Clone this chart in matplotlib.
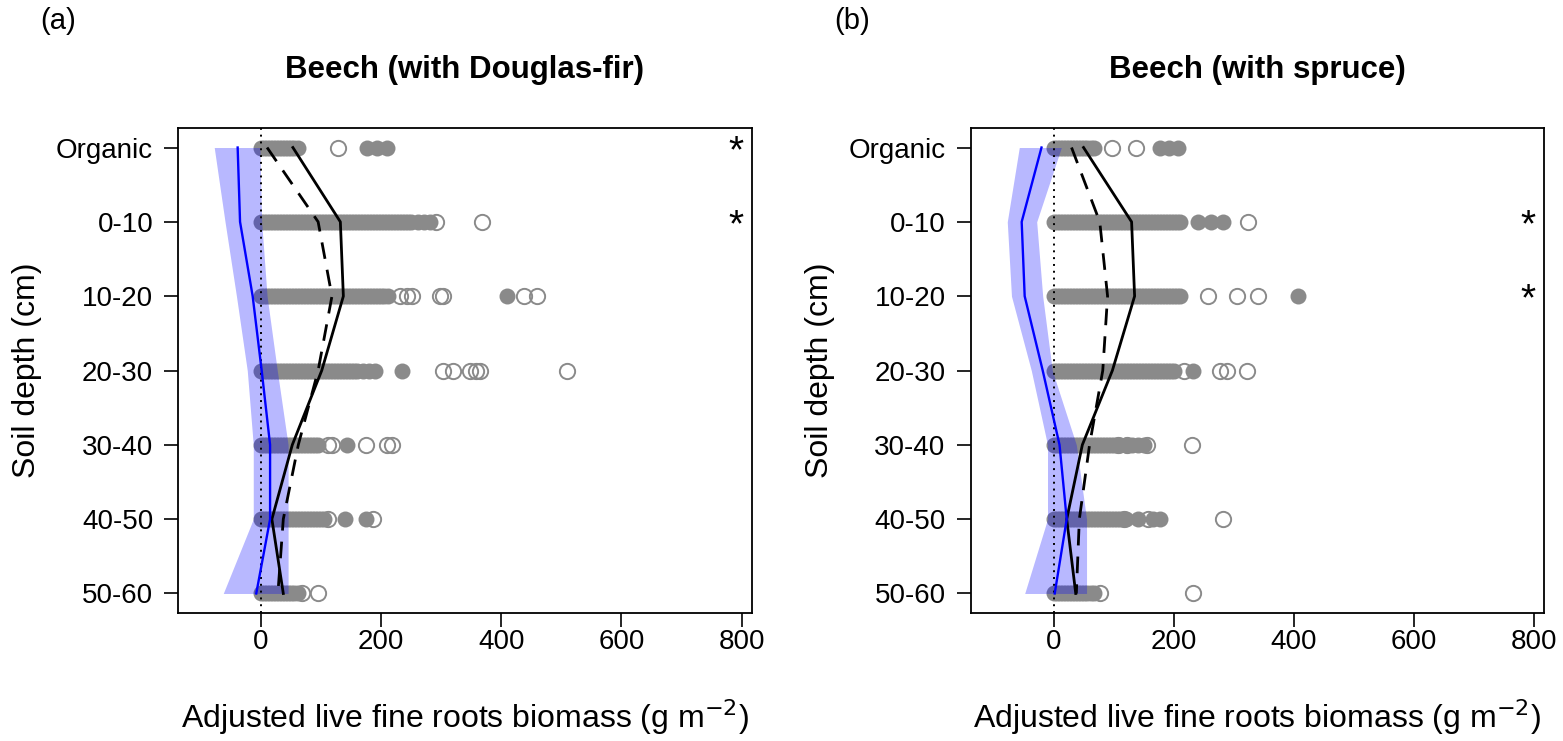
import matplotlib
matplotlib.use("Agg")
import matplotlib.pyplot as plt

plt.rcParams["font.family"] = ["Liberation Sans", "DejaVu Sans"]

depths = ["Organic", "0-10", "10-20", "20-30", "30-40", "40-50", "50-60"]

# ---- panel (a): beech growing with Douglas-fir ----
a_filled = [
    [0, 5, 10, 15, 20, 25, 30, 35, 40, 45, 50, 55, 62, 177, 193, 210],
    [0, 5, 10, 15, 20, 25, 30, 35, 40, 45, 50, 55, 60, 65, 70, 75, 80, 85, 90, 95,
     100, 105, 110, 115, 120, 125, 130, 135, 140, 145, 150, 155, 160, 165, 170,
     175, 180, 185, 190, 195, 200, 205, 210, 215, 220, 225, 230, 235, 240, 245,
     250, 262, 272, 282],
    [0, 5, 10, 15, 20, 25, 30, 35, 40, 45, 50, 55, 60, 65, 70, 75, 80, 85, 90, 95,
     100, 105, 110, 115, 120, 125, 130, 135, 140, 145, 150, 155, 160, 165, 170,
     175, 180, 185, 190, 195, 200, 205, 212, 410],
    [0, 5, 10, 15, 20, 25, 30, 35, 40, 45, 50, 55, 60, 65, 70, 75, 80, 85, 90, 95,
     100, 105, 110, 115, 120, 125, 130, 135, 140, 145, 150, 155, 160, 170, 180,
     190, 235],
    [0, 5, 10, 15, 20, 25, 30, 35, 40, 45, 50, 55, 60, 65, 70, 75, 80, 85, 90, 95,
     143],
    [0, 5, 10, 15, 20, 25, 30, 35, 40, 45, 50, 55, 60, 65, 70, 75, 80, 85, 90, 95,
     100, 105, 140, 175],
    [0, 5, 10, 15, 20, 25, 30, 35, 40, 45, 50, 55, 62],
]
a_open = [
    [128],
    [292, 368],
    [232, 243, 252, 298, 303, 437, 460],
    [303, 320, 348, 357, 365, 510],
    [112, 118, 175, 210, 218],
    [112, 187],
    [68, 95],
]
a_solid = [53, 132, 137, 101, 52, 18, 37]
a_dashed = [10, 95, 118, 95, 62, 37, 28]
a_blue = [-39, -35, -14, 1, 15, 15, -8]
a_band_lo = [-78, -60, -41, -23, -13, -13, -63]
a_band_hi = [-2, 1, 10, 27, 45, 45, 45]
a_stars = ["Organic", "0-10"]

# ---- panel (b): beech growing with spruce ----
b_filled = [
    [0, 5, 10, 15, 20, 25, 30, 35, 40, 45, 50, 55, 62, 68, 177, 193, 208],
    [0, 5, 10, 15, 20, 25, 30, 35, 40, 45, 50, 55, 60, 65, 70, 75, 80, 85, 90, 95,
     100, 105, 110, 115, 120, 125, 130, 135, 140, 145, 150, 155, 160, 165, 170,
     175, 180, 185, 190, 195, 200, 205, 210, 240, 263, 282],
    [0, 5, 10, 15, 20, 25, 30, 35, 40, 45, 50, 55, 60, 65, 70, 75, 80, 85, 90, 95,
     100, 105, 110, 115, 120, 125, 130, 135, 140, 145, 150, 155, 160, 165, 170,
     175, 180, 185, 190, 195, 200, 205, 210, 407],
    [0, 5, 10, 15, 20, 25, 30, 35, 40, 45, 50, 55, 60, 65, 70, 75, 80, 85, 90, 95,
     100, 105, 110, 115, 120, 125, 130, 135, 140, 145, 150, 155, 160, 165, 170,
     175, 180, 185, 190, 195, 200, 232],
    [0, 5, 10, 15, 20, 25, 30, 35, 40, 45, 50, 55, 60, 65, 70, 75, 80, 85, 90, 95,
     100, 110, 120, 130, 140, 150],
    [0, 5, 10, 15, 20, 25, 30, 35, 40, 45, 50, 55, 60, 65, 70, 75, 80, 85, 90, 95,
     100, 105, 110, 120, 140, 165, 177],
    [0, 5, 10, 15, 20, 25, 30, 35, 40, 45, 50, 55, 62, 68],
]
b_open = [
    [98, 138],
    [323],
    [258, 305, 340],
    [218, 277, 288, 322],
    [107, 122, 155, 230],
    [118, 157, 282],
    [77, 232],
]
b_solid = [50, 130, 135, 98, 48, 22, 37]
b_dashed = [30, 77, 90, 82, 60, 43, 38]
b_blue = [-20, -53, -48, -18, 10, 22, 2]
b_band_lo = [-57, -77, -70, -37, -10, -10, -48]
b_band_hi = [13, -28, -18, -2, 38, 55, 55]
b_stars = ["0-10", "10-20"]

titles = ["Beech (with Douglas-fir)", "Beech (with spruce)"]
tags = ["(a)", "(b)"]
xticks = [0, 200, 400, 600, 800]

GREY = "#8a8a8a"
rows = list(range(1, len(depths) + 1))


def draw_panel(ax, filled, opened, solid, dashed, blue, lo, hi, stars):
    for r, vals in zip(rows, filled):
        ax.plot(vals, [r] * len(vals), "o", ms=11.5, mfc=GREY, mec=GREY, mew=0, zorder=2)
    for r, vals in zip(rows, opened):
        ax.plot(vals, [r] * len(vals), "o", ms=11, mfc="none", mec=GREY, mew=1.4, zorder=2)
    ax.fill_betweenx(rows, lo, hi, color="blue", alpha=0.28, lw=0, zorder=3)
    ax.axvline(0, color="black", ls=(0, (1, 2.5)), lw=1.4, zorder=4)
    ax.plot(dashed, rows, color="black", ls=(0, (6, 4)), lw=2, zorder=5)
    ax.plot(solid, rows, color="black", lw=2, zorder=5)
    ax.plot(blue, rows, color="blue", lw=1.7, zorder=6)
    for s in stars:
        ax.text(790, depths.index(s) + 1.06, "*", ha="center", va="center",
                fontsize=28, zorder=7)

    ax.set_xlim(-138, 817)
    ax.set_ylim(7.26, 0.74)
    ax.set_xticks(xticks)
    ax.set_yticks(rows)
    ax.set_yticklabels(depths)
    ax.tick_params(direction="out", length=10, width=1.2, labelsize=20, pad=8)
    ax.tick_params(axis="x", pad=2)
    for sp in ax.spines.values():
        sp.set_linewidth(1.3)
    ax.set_xlabel("Adjusted live fine roots biomass (g m$^{-2}$)", fontsize=23, labelpad=30)
    ax.set_ylabel("Soil depth (cm)", fontsize=23, labelpad=10)


fig = plt.figure(figsize=(15.63, 7.41), dpi=100)
ax_a = fig.add_axes([0.114, 0.173, 0.367, 0.654])
ax_b = fig.add_axes([0.621, 0.173, 0.367, 0.654])

draw_panel(ax_a, a_filled, a_open, a_solid, a_dashed, a_blue, a_band_lo, a_band_hi, a_stars)
draw_panel(ax_b, b_filled, b_open, b_solid, b_dashed, b_blue, b_band_lo, b_band_hi, b_stars)

for ax, title in zip([ax_a, ax_b], titles):
    ax.set_title(title, fontsize=22.5, fontweight="bold", pad=36)
fig.text(0.026, 0.972, tags[0], fontsize=21, ha="left", va="center")
fig.text(0.534, 0.972, tags[1], fontsize=21, ha="left", va="center")

fig.savefig("out.png", dpi=100)
